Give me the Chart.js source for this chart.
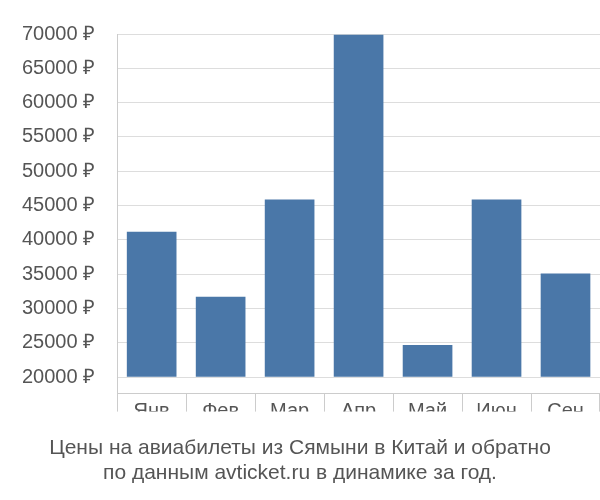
<!DOCTYPE html>
<html>
<head>
<meta charset="utf-8">
<script src="https://cdn.jsdelivr.net/npm/chart.js@4"></script>
<style>
  body { margin: 0; background: #fff; }
  #wrap { width: 600px; height: 500px; }
</style>
</head>
<body>
<div id="wrap"><canvas id="priceChart"></canvas></div>
<script>
const months = ['Янв', 'Фев', 'Мар', 'Апр', 'Май', 'Июн', 'Сен'];
const prices = [41200, 31700, 45900, 69900, 24700, 45900, 35100];
const tickValues = [20000, 25000, 30000, 35000, 40000, 45000, 50000, 55000, 60000, 65000, 70000];
const titleLines = ['Цены на авиабилеты из Сямыни в Китай и обратно', 'по данным avticket.ru в динамике за год.'];

const ctx = document.getElementById('priceChart').getContext('2d');
new Chart(ctx, {
    type: 'bar',
    data: {
        labels: months,
        datasets: [{
            data: prices,
            base: 20000,
            backgroundColor: '#4a77a8',
            barPercentage: 0.72,
            categoryPercentage: 1
        }]
    },
    options: {
        responsive: true,
        maintainAspectRatio: false,
        animation: false,
        layout: { padding: { top: 6, right: 0, left: 0, bottom: 14 } },
        plugins: {
            legend: { display: false },
            tooltip: { enabled: false },
            title: {
                display: true,
                position: 'bottom',
                text: titleLines,
                color: '#555',
                font: { family: 'Liberation Sans, Arial', size: 21, weight: 'normal' },
                padding: { top: 24, bottom: 0 }
            }
        },
        scales: {
            x: {
                grid: { drawOnChartArea: false, tickLength: 18, color: '#ccc' },
                border: { color: '#ccc' },
                ticks: { color: '#555', font: { family: 'Liberation Sans, Arial', size: 20 }, padding: -12 }
            },
            y: {
                min: 17600,
                max: 70000,
                afterBuildTicks: axis => {
                    axis.ticks = tickValues.map(v => ({ value: v }));
                },
                grid: { color: '#ddd', tickLength: 0 },
                border: { color: '#ccc' },
                ticks: {
                    color: '#555',
                    font: { family: 'Liberation Sans, Arial', size: 20 },
                    padding: 22,
                    callback: value => value + ' ₽'
                }
            }
        }
    }
});
</script>
</body>
</html>
